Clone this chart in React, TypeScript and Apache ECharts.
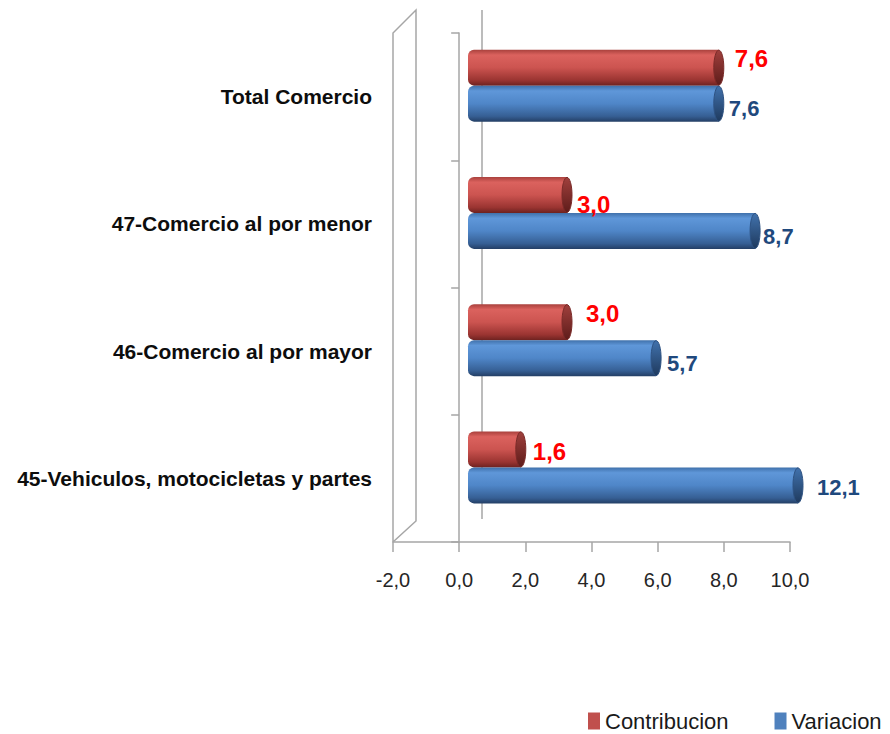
import React, { useEffect, useRef } from "react";
import * as echarts from "echarts";

const categories = [
  "45-Vehiculos, motocicletas y partes",
  "46-Comercio al por mayor",
  "47-Comercio al por menor",
  "Total Comercio",
];
const contribucion = [1.6, 3.0, 3.0, 7.6];
const variacion = [12.1, 5.7, 8.7, 7.6];
const seriesNames = ["Contribucion", "Variacion"];
const xMin = -2;
const xMax = 10;
const xStep = 2;

// label nudges (styling only)
const redLabelOffsets = [[7, 2], [14, -9], [5, 10], [11, -9]];
const blueLabelOffsets = [[14, 2], [6, 5], [3, 6], [5, 5]];

const FONT = '"Liberation Sans", Arial, sans-serif';
const fmt = (v: number) => v.toFixed(1).replace(".", ",");

const FRAME = "#a6a6a6";
const BAR_W = 36;
const CAP_RX = 5;

export default function App() {
  const ref = useRef<HTMLDivElement>(null);
  useEffect(() => {
    if (!ref.current) return;
    const chart = echarts.init(ref.current, undefined, { renderer: "svg" });
    const grad = (stops: string[]) =>
      new echarts.graphic.LinearGradient(
        0, 0, 0, 1,
        stops.map((c, i) => ({ offset: [0, 0.15, 0.5, 0.85, 1][i], color: c }))
      );
    const redGrad = grad(["#a8403c", "#db625e", "#cc5450", "#9a3431", "#6e2220"]);
    const blueGrad = grad(["#3f70aa", "#5f97d9", "#4f86c8", "#365f94", "#243f66"]);
    const redCap = new echarts.graphic.LinearGradient(0, 0, 0, 1, [
      { offset: 0, color: "#a0403d" },
      { offset: 1, color: "#5e1c1a" },
    ]);
    const blueCap = new echarts.graphic.LinearGradient(0, 0, 0, 1, [
      { offset: 0, color: "#4172ad" },
      { offset: 1, color: "#1f3a5e" },
    ]);
    const mkData = (vals: number[], offs: number[][]) =>
      vals.map((v, i) => ({ value: v, label: { offset: offs[i] } }));

    const capSeries = (vals: number[], dir: number, fill: any, stroke: string) => ({
      type: "custom",
      xAxisIndex: 1,
      yAxisIndex: 1,
      z: 4,
      silent: true,
      data: vals.map((v, i) => [v, i]),
      encode: { x: 0, y: 1 },
      renderItem: (params: any, api: any) => {
        const v = Math.min(api.value(0), xMax);
        const p = api.coord([v, api.value(1)]);
        const cy = p[1] + dir * (BAR_W / 2);
        return {
          type: "ellipse",
          shape: { cx: p[0], cy, rx: CAP_RX, ry: BAR_W / 2 - 0.5 },
          style: { fill, stroke, lineWidth: 1 },
        };
      },
    });

    chart.setOption({
      animation: false,
      backgroundColor: "#ffffff",
      grid: [
        { left: 393, top: 33, width: 397, height: 509, containLabel: false, outerBoundsMode: "none" },
        { left: 402, top: 22, width: 396, height: 509, containLabel: false, outerBoundsMode: "none" },
      ],
      xAxis: [
        {
          gridIndex: 0,
          type: "value",
          min: xMin,
          max: xMax,
          interval: xStep,
          axisLine: { show: true, onZero: false, lineStyle: { color: FRAME, width: 1.5 } },
          axisTick: { show: true, length: 10, lineStyle: { color: FRAME, width: 1.5 } },
          splitLine: { show: false },
          axisLabel: {
            margin: 28,
            fontFamily: FONT,
            fontSize: 20,
            color: "#262626",
            formatter: (v: number) => fmt(v),
          },
        },
        {
          gridIndex: 1,
          type: "value",
          min: xMin,
          max: xMax,
          interval: xStep,
          show: false,
          splitLine: { show: false },
        },
      ],
      yAxis: [
        {
          gridIndex: 0,
          type: "category",
          data: categories,
          axisLine: { show: true, onZero: true, lineStyle: { color: FRAME, width: 1.5 } },
          axisTick: { show: true, length: 8, lineStyle: { color: FRAME, width: 1.5 } },
          axisLabel: {
            margin: 21,
            fontFamily: FONT,
            fontSize: 21,
            fontWeight: "bold",
            color: "#0d0d0d",
          },
          splitLine: { show: false },
        },
        {
          gridIndex: 1,
          type: "category",
          data: categories,
          show: false,
        },
      ],
      legend: {
        left: 583,
        top: 705,
        itemWidth: 12,
        itemHeight: 17,
        itemGap: 46,
        icon: "rect",
        textStyle: { fontFamily: FONT, fontSize: 22, color: "#1a1a1a" },
        data: [
          { name: seriesNames[0], itemStyle: { color: "#c0504d" } },
          { name: seriesNames[1], itemStyle: { color: "#4f81bd" } },
        ],
      },
      graphic: [
        {
          type: "polyline",
          shape: { points: [[393, 542], [393, 33], [416, 10], [416, 521], [393, 542]] },
          style: { stroke: FRAME, lineWidth: 1.5, fill: "none" },
          z: 1,
        },
        {
          type: "line",
          shape: { x1: 482, y1: 10, x2: 482, y2: 519 },
          style: { stroke: FRAME, lineWidth: 1.5 },
          z: 1,
        },
      ],
      series: [
        {
          name: seriesNames[0],
          type: "bar",
          xAxisIndex: 1,
          yAxisIndex: 1,
          data: mkData(contribucion, redLabelOffsets),
          barWidth: BAR_W,
          barGap: "0%",
          clip: true,
          z: 3,
          itemStyle: { color: redGrad, borderRadius: [6, 0, 0, 6] },
          label: {
            show: true,
            position: "right",
            distance: CAP_RX,
            fontFamily: FONT,
            fontSize: 24,
            fontWeight: "bold",
            color: "#ff0000",
            formatter: (p: any) => fmt(p.value),
          },
        },
        {
          name: seriesNames[1],
          type: "bar",
          xAxisIndex: 1,
          yAxisIndex: 1,
          data: mkData(variacion, blueLabelOffsets),
          barWidth: BAR_W,
          barGap: "0%",
          clip: true,
          z: 3,
          itemStyle: { color: blueGrad, borderRadius: [6, 0, 0, 6] },
          label: {
            show: true,
            position: "right",
            distance: CAP_RX,
            fontFamily: FONT,
            fontSize: 22,
            fontWeight: "bold",
            color: "#1f497d",
            formatter: (p: any) => fmt(p.value),
          },
        },
        capSeries(contribucion, -1, redCap, "#7a2a28"),
        capSeries(variacion, 1, blueCap, "#2e5282"),
      ],
    });
    return () => chart.dispose();
  }, []);
  return (
    <div
      ref={ref}
      style={{ position: "absolute", left: 0, top: 0, width: 890, height: 734 }}
    />
  );
}
